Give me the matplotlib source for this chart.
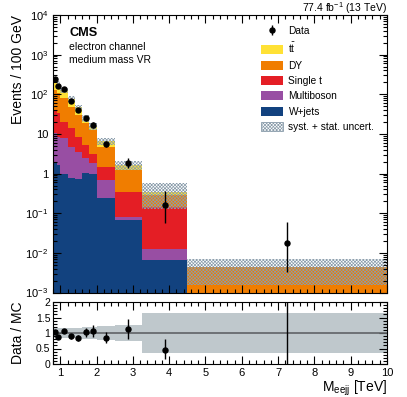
import numpy as np
import matplotlib
matplotlib.use("Agg")
import matplotlib.pyplot as plt
from matplotlib.patches import Patch
from matplotlib.ticker import FixedLocator, MultipleLocator, LogLocator, NullFormatter, FuncFormatter

plt.rcParams['font.family'] = ['Liberation Sans', 'DejaVu Sans']
plt.rcParams['mathtext.fontset'] = 'custom'
plt.rcParams['mathtext.rm'] = 'Liberation Sans'
plt.rcParams['mathtext.it'] = 'Liberation Sans:italic'
plt.rcParams['mathtext.bf'] = 'Liberation Sans:bold'
plt.rcParams['hatch.linewidth'] = 0.5

# bin edges in TeV, content in events / 100 GeV
edges = [0.8, 0.9, 1.0, 1.2, 1.4, 1.6, 1.8, 2.0, 2.5, 3.25, 4.5, 10.0]
wjets = [1.99, 1.64, 1.0, 0.76, 0.73, 1.06, 0.97, 0.236, 0.067, 0.0065, 0.0]
multiboson = [8.4, 6.9, 6.7, 4.0, 2.8, 1.36, 0.84, 0.45, 0.014, 0.0057, 0.0]
single_t = [29.6, 24.5, 12.6, 9.05, 4.95, 2.78, 1.39, 0.79, 0.266, 0.133, 0.0]
dy = [88.0, 73.0, 58.7, 34.8, 21.5, 13.3, 9.3, 3.27, 0.873, 0.142, 0.0043]
ttbar = [102.0, 80.0, 46.0, 27.4, 17.6, 6.0, 3.5, 1.85, 0.42, 0.06, 0.0]
rel_unc = [0.16, 0.16, 0.16, 0.16, 0.16, 0.20, 0.20, 0.21, 0.26, 0.63, 0.64]

data = [239, 162, 134, 68, 39.5, 25, 17, 5.6, 1.87, 0.16, 0.0182]
data_lo = [15, 12.7, 8.2, 5.8, 4.4, 3.5, 2.9, 1.04, 0.51, 0.103, 0.015]
data_hi = [15, 12.7, 8.2, 5.8, 4.4, 3.5, 2.9, 1.16, 0.63, 0.21, 0.042]
ratio_lo = [0.07, 0.07, 0.07, 0.08, 0.09, 0.14, 0.18, 0.16, 0.34, 0.30, 4.5]
ratio_hi = [0.07, 0.07, 0.07, 0.08, 0.09, 0.14, 0.18, 0.17, 0.31, 0.33, 10.0]

edges = np.array(edges)
centers = 0.5 * (edges[1:] + edges[:-1])

layers = [
    (wjets, '#12427f', 'W+jets'),
    (multiboson, '#984ea3', 'Multiboson'),
    (single_t, '#e41e25', 'Single t'),
    (dy, '#f07d00', 'DY'),
    (ttbar, '#ffe135', 'tt'),
]
hatch_col = '#8a9cab'

fig = plt.figure(figsize=(4.07, 3.97), dpi=100)
ax = fig.add_axes([53 / 407, 1 - 292.5 / 397, 334 / 407, 277.5 / 397])
rax = fig.add_axes([53 / 407, 1 - 364 / 397, 334 / 407, 62 / 397])

# stacked backgrounds
bottom = np.full(len(centers), 1e-6)
handles = {}
for vals, col, lab in layers:
    top = bottom + np.array(vals)
    handles[lab] = ax.stairs(top, edges, baseline=bottom, fill=True, color=col, lw=0)
    bottom = top
total = bottom
unc = np.array(rel_unc)
ax.stairs(total * (1 + unc), edges, baseline=total * (1 - unc), fill=True,
          facecolor='none', edgecolor=hatch_col, hatch='xxxxxxxxxx', lw=0)

eb = ax.errorbar(centers, data, yerr=[data_lo, data_hi], fmt='o', color='black',
                 ms=3.6, lw=1, capsize=0)

ax.set_yscale('log')
ax.set_ylim(1e-3, 1e4)
ax.set_xlim(0.8, 10)

def log_fmt(v, pos):
    e = int(round(np.log10(v)))
    if e == 0:
        return '1'
    if e == 1:
        return '10'
    return r'$10^{%d}$' % e

ax.yaxis.set_major_locator(LogLocator(base=10, numticks=20))
ax.yaxis.set_minor_locator(LogLocator(base=10, subs=np.arange(2, 10), numticks=20))
ax.yaxis.set_major_formatter(FuncFormatter(log_fmt))
ax.yaxis.set_minor_formatter(NullFormatter())
ax.xaxis.set_major_locator(MultipleLocator(1))
ax.xaxis.set_minor_locator(MultipleLocator(0.2))
ax.tick_params(which='both', direction='in', top=True, right=True, labelbottom=False,
               labelsize=8, width=0.8)
ax.tick_params(which='major', length=6)
ax.tick_params(which='minor', length=3)
ax.set_ylabel('Events / 100 GeV', fontsize=10, loc='top')
ax.yaxis.set_label_coords(-0.083, 1.0)

# legend
hatch_patch = Patch(facecolor='white', edgecolor=hatch_col, hatch='xxxxxxxxxx', lw=0.6)
leg_handles = [eb, handles['tt'], handles['DY'], handles['Single t'],
               handles['Multiboson'], handles['W+jets'], hatch_patch]
leg_labels = ['Data', r't$\bar{\mathrm{t}}$', 'DY', 'Single t', 'Multiboson', 'W+jets',
              'syst. + stat. uncert.']
ax.legend(leg_handles, leg_labels, loc='upper left', bbox_to_anchor=(0.623, 0.96),
          frameon=False, fontsize=7.3, handlelength=2.2, handleheight=1.0,
          handletextpad=0.5, labelspacing=0.52, borderpad=0, borderaxespad=0)

fig.text(70 / 407, 1 - 33 / 397, 'CMS', fontsize=9.2, fontweight='bold', va='center')
fig.text(69 / 407, 1 - 47.5 / 397, 'electron channel', fontsize=7.5, va='center')
fig.text(69 / 407, 1 - 60 / 397, 'medium mass VR', fontsize=7.5, va='center')
fig.text(387 / 407, 1 - 8 / 397, r'77.4 fb$^{-1}$ (13 TeV)', fontsize=7.5,
         ha='right', va='center')

# ratio panel
ratio = np.array(data) / total
rax.stairs(1 + unc, edges, baseline=1 - unc, fill=True, color='#bfc8cc', lw=0)
rax.axhline(1, color='#5f6366', lw=1.2)
rax.errorbar(centers, ratio, yerr=[ratio_lo, ratio_hi], fmt='o', color='black',
             ms=3.6, lw=1, capsize=0)
rax.set_xlim(0.8, 10)
rax.set_ylim(0, 2)
rax.yaxis.set_major_locator(FixedLocator([0, 0.5, 1, 1.5, 2]))
rax.yaxis.set_minor_locator(MultipleLocator(0.1))
rax.yaxis.set_major_formatter(FuncFormatter(lambda v, p: ('%g' % v)))
rax.xaxis.set_major_locator(MultipleLocator(1))
rax.xaxis.set_minor_locator(MultipleLocator(0.2))
rax.tick_params(which='both', direction='in', top=True, right=True, width=0.8)
rax.tick_params(axis='x', labelsize=8, pad=3)
rax.tick_params(axis='y', labelsize=7.5, pad=2)
rax.tick_params(which='major', length=6)
rax.tick_params(which='minor', length=3)
rax.set_ylabel('Data / MC', fontsize=10)
rax.yaxis.set_label_coords(-0.083, 0.5)
rax.set_xlabel(r'M$_{\mathrm{eejj}}$ [TeV]', fontsize=10, loc='right')
rax.xaxis.set_label_coords(1.0, -0.24)
rax.xaxis.label.set_va('top')

for a in (ax, rax):
    for s in a.spines.values():
        s.set_linewidth(0.8)

fig.savefig('out.png', dpi=100)
